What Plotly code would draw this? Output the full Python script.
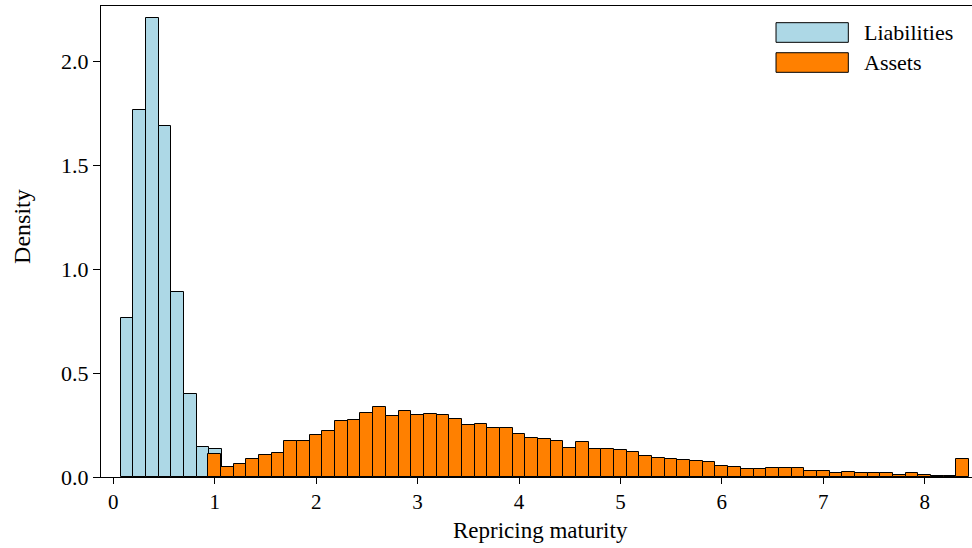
import plotly.graph_objects as go

# ---- data ----
bin_width = 0.125
liab_first_edge = 0.073
liab_density = [0.763, 1.764, 2.208, 1.689, 0.888, 0.400, 0.143, 0.135]

asset_first_edge = 0.937
asset_density = [
    0.111, 0.047, 0.061, 0.085, 0.104, 0.117, 0.172, 0.175, 0.200, 0.220,
    0.268, 0.274, 0.309, 0.335, 0.292, 0.316, 0.297, 0.303, 0.297, 0.280,
    0.248, 0.253, 0.236, 0.236, 0.208, 0.188, 0.184, 0.172, 0.141, 0.170,
    0.135, 0.133, 0.131, 0.122, 0.102, 0.093, 0.088, 0.080, 0.075, 0.072,
    0.054, 0.049, 0.040, 0.037, 0.042, 0.042, 0.042, 0.027, 0.027, 0.021,
    0.025, 0.019, 0.019, 0.021, 0.011, 0.019, 0.008, 0.006, 0.006, 0.087,
]

x_ticks = [0, 1, 2, 3, 4, 5, 6, 7, 8]
y_ticks = [0.0, 0.5, 1.0, 1.5, 2.0]
series_names = ["Liabilities", "Assets"]

liab_x = [liab_first_edge + bin_width * (i + 0.5) for i in range(len(liab_density))]
asset_x = [asset_first_edge + bin_width * (i + 0.5) for i in range(len(asset_density))]

LIAB_COLOR = "#add8e6"
ASSET_COLOR = "#ff8000"
FONT = "Liberation Serif"

fig = go.Figure()
fig.add_trace(go.Bar(
    x=liab_x, y=liab_density, width=bin_width, name=series_names[0],
    marker=dict(color=LIAB_COLOR, line=dict(color="black", width=1)),
    showlegend=False,
))
fig.add_trace(go.Bar(
    x=asset_x, y=asset_density, width=bin_width, name=series_names[1],
    marker=dict(color=ASSET_COLOR, line=dict(color="black", width=1)),
    showlegend=False,
))

fig.update_layout(
    width=972, height=548,
    margin=dict(l=101, r=0, t=6, b=71),
    barmode="overlay",
    bargap=0,
    plot_bgcolor="white",
    paper_bgcolor="white",
    font=dict(family=FONT, size=22, color="black"),
    xaxis=dict(
        range=[-0.121, 8.466],
        tickvals=x_ticks,
        ticktext=[str(v) for v in x_ticks],
        ticks="outside", ticklen=6, tickwidth=1, tickcolor="black",
        showline=True, linecolor="black", linewidth=1.2, mirror=True,
        showgrid=False, zeroline=False,
        tickfont=dict(family=FONT, size=21),
    ),
    yaxis=dict(
        range=[0, 2.266],
        tickvals=y_ticks,
        ticktext=[f"{v:.1f}" for v in y_ticks],
        ticks="outside", ticklen=7, tickwidth=1, tickcolor="black",
        showline=True, linecolor="black", linewidth=1.2,
        showgrid=False, zeroline=False,
        tickfont=dict(family=FONT, size=22),
    ),
)

# axis titles
fig.add_annotation(text="Repricing maturity", xref="paper", yref="paper",
                   x=0.505, y=-0.1146, xanchor="center", yanchor="middle",
                   showarrow=False, font=dict(family=FONT, size=23))
fig.add_annotation(text="Density", xref="paper", yref="paper", textangle=-90,
                   x=-0.0907, y=0.531, xanchor="center", yanchor="middle",
                   showarrow=False, font=dict(family=FONT, size=24))

# legend (large swatches, as in the reference)
legend_items = [(series_names[0], LIAB_COLOR, 0.9646, 0.9229, 0.9427),
                (series_names[1], ASSET_COLOR, 0.9008, 0.8592, 0.8796)]
for name, color, y_top, y_bot, y_text in legend_items:
    fig.add_shape(type="rect", xref="paper", yref="paper",
                  x0=0.775, x1=0.858, y0=y_bot, y1=y_top,
                  fillcolor=color, line=dict(color="black", width=1))
    fig.add_annotation(text=name, xref="paper", yref="paper",
                       x=0.8734, y=y_text, xanchor="left", yanchor="middle",
                       showarrow=False, font=dict(family=FONT, size=22))

fig.write_html("out.html")
